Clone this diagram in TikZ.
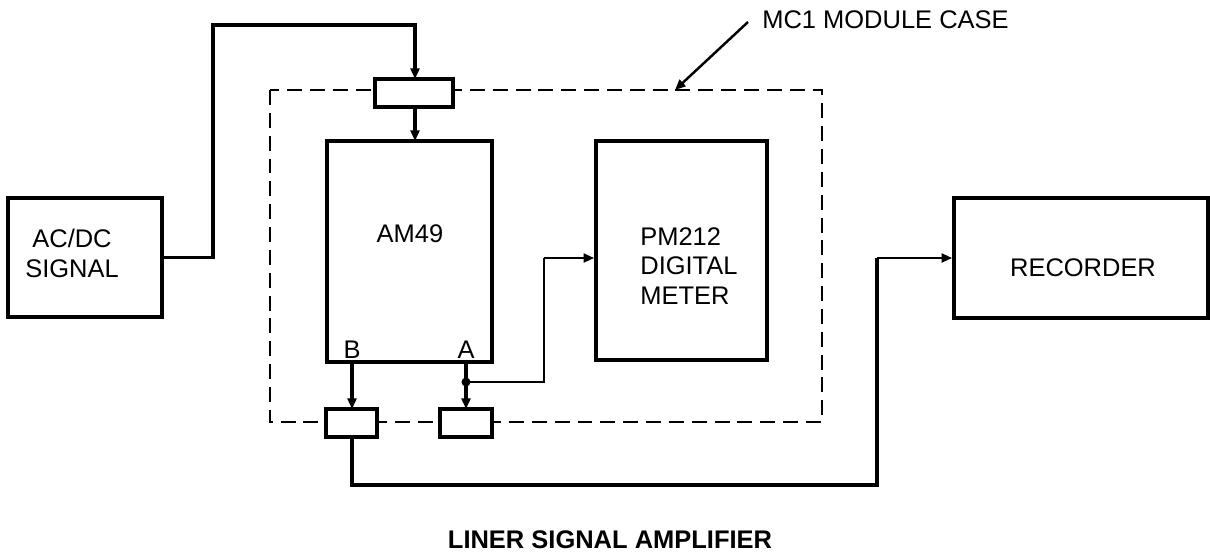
\documentclass[tikz,border=0pt]{standalone}
\usepackage{fontspec}
\setmainfont{Liberation Sans}
\usetikzlibrary{arrows.meta}
\begin{document}
\begin{tikzpicture}[x=0.02cm,y=-0.02cm,
  blk/.style={draw,line width=2.1pt,fill=white,inner sep=0pt},
  conbox/.style={draw,line width=2.1pt,fill=white,minimum height=0.56cm,inner sep=0pt},
  txt/.style={font=\fontsize{14.5pt}{17pt}\selectfont,inner sep=0pt},
  wire/.style={line width=2pt},
  thinwire/.style={line width=1.4pt},
  tipped/.style={-{Triangle[length=6pt,width=5pt]}},
  casestyle/.style={line width=1.1pt,dash pattern=on 8.5pt off 4.5pt}
]
\useasboundingbox (0,0) rectangle (1210,555);
% module case
\draw[casestyle] (270,90) rectangle (822,422);
% coordinates
\coordinate (k1) at (213,25);
\coordinate (dot) at (466,382);
\coordinate (k2) at (544,258);
\coordinate (k3) at (877,485);
\coordinate (k4) at (877,258);
\coordinate (mcs) at (748,22);
\coordinate (mce) at (675,90);
% blocks
\node[blk,minimum width=3.08cm,minimum height=2.38cm] (acdc) at (85,257.5) {};
\node[blk,minimum width=3.3cm,minimum height=4.42cm] (am49) at (409.5,251.5) {};
\node[blk,minimum width=3.42cm,minimum height=4.38cm] (pm212) at (681.5,250.5) {};
\node[blk,minimum width=5.08cm,minimum height=2.4cm] (rec) at (1081,258) {};
% connectors
\draw[wire,tipped] (acdc.east) -| (k1) -| (415,79);
\draw[wire,tipped] (415,107) -- (415,141);
\draw[wire,tipped] (352,362) -- (352,409);
\draw[wire,tipped] (466,362) -- (466,409);
\fill (dot) circle (4.5);
\draw[thinwire] (dot) -| (k2);
\draw[thinwire,tipped] (k2) -- (k2 -| pm212.west);
\draw[wire] (352,437) |- (k3) -- (k4);
\draw[thinwire,tipped] (k4) -- (k4 -| rec.west);
\draw[line width=1.4pt,tipped] (mcs) -- (mce);
% connector boxes
\node[conbox,minimum width=1.56cm] (tc) at (414,93) {};
\node[conbox,minimum width=1.02cm] (cb) at (351.5,423) {};
\node[conbox,minimum width=1.04cm] (ca) at (466,423) {};
% texts
\node[txt,align=center] (acdct) at (72,253) {AC/DC\\SIGNAL};
\node[txt] (am49t) at (410,234) {AM49};
\node[txt] (bt) at (352,350) {B};
\node[txt] (at) at (466,350) {A};
\node[txt,align=left,anchor=west] (pmt) at (640,266) {PM212\\DIGITAL\\METER};
\node[txt] (rect) at (1083,268) {RECORDER};
\node[txt,anchor=west] (mct) at (762,20) {MC1 MODULE CASE};
\node[txt,font=\fontsize{14.5pt}{17pt}\selectfont\bfseries] (title) at (610,540) {LINER SIGNAL AMPLIFIER};
\end{tikzpicture}
\end{document}
